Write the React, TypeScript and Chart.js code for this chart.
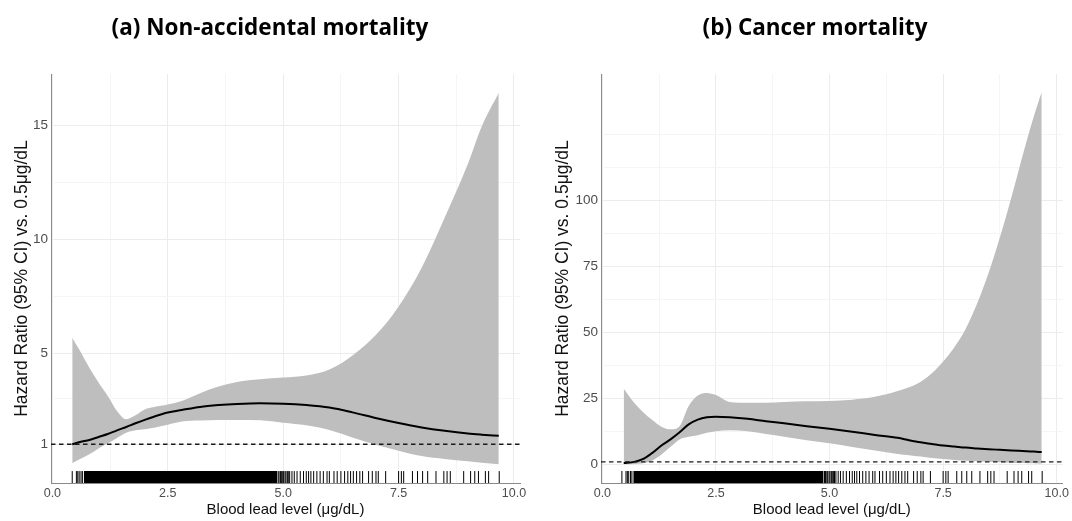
import React, { useEffect, useRef } from 'react';
import { Chart, registerables } from 'chart.js';

Chart.register(...registerables);

// ---------- data: panel (a) non-accidental mortality ----------
const leadA = [0.43, 0.6, 0.8, 1.0, 1.2, 1.4, 1.6, 1.8, 2.0, 2.2, 2.5, 2.8, 3.2, 3.6, 4.0, 4.5, 5.0, 5.5, 6.0, 6.5, 7.0, 7.5, 8.0, 8.5, 9.0, 9.3, 9.67];
const upperA = [5.68, 5.09, 4.36, 3.71, 3.12, 2.46, 2.1, 2.27, 2.53, 2.64, 2.74, 2.9, 3.24, 3.53, 3.73, 3.85, 3.93, 4.02, 4.28, 4.9, 5.78, 7.05, 8.75, 10.95, 13.3, 14.95, 16.43];
const fitA = [1.0, 1.1, 1.19, 1.32, 1.45, 1.61, 1.76, 1.92, 2.07, 2.21, 2.39, 2.5, 2.64, 2.72, 2.77, 2.8, 2.78, 2.72, 2.61, 2.4, 2.15, 1.93, 1.74, 1.59, 1.47, 1.42, 1.37];
const lowerA = [0.17, 0.35, 0.56, 0.81, 1.04, 1.28, 1.51, 1.61, 1.66, 1.73, 1.86, 2.0, 2.04, 2.06, 2.07, 2.05, 1.94, 1.83, 1.63, 1.3, 0.98, 0.72, 0.48, 0.35, 0.25, 0.19, 0.12];

// ---------- data: panel (b) cancer mortality ----------
const leadB = [0.47, 0.7, 0.9, 1.1, 1.3, 1.5, 1.7, 1.9, 2.1, 2.3, 2.5, 2.8, 3.2, 3.6, 4.0, 4.5, 5.0, 5.5, 6.0, 6.5, 6.75, 7.0, 7.25, 7.5, 7.75, 8.0, 8.25, 8.5, 8.75, 9.0, 9.25, 9.5, 9.67];
const upperB = [28.7, 23.4, 19.8, 16.8, 14.3, 13.3, 14.5, 22.1, 26.1, 27.1, 26.3, 23.7, 23.4, 23.4, 23.7, 23.9, 24.0, 24.5, 25.6, 27.8, 29.2, 31.2, 34.5, 39.0, 44.5, 51.5, 61.0, 72.5, 86.0, 101.0, 117.0, 132.0, 141.0];
const fitB = [0.6, 1.0, 2.1, 4.4, 7.2, 9.5, 12.2, 15.2, 17.0, 17.9, 18.1, 17.9, 17.3, 16.4, 15.6, 14.5, 13.5, 12.4, 11.2, 10.1, 9.2, 8.4, 7.8, 7.2, 6.8, 6.4, 6.1, 5.8, 5.55, 5.3, 5.1, 4.9, 4.7];
const lowerB = [0.05, 0.2, 0.5, 1.5, 3.8, 6.7, 9.5, 10.5, 11.1, 12.0, 12.6, 13.0, 12.6, 11.5, 10.5, 9.2, 8.0, 6.6, 5.3, 4.0, 3.5, 3.0, 2.5, 2.1, 1.7, 1.4, 1.2, 1.0, 0.85, 0.7, 0.6, 0.5, 0.4];

// ---------- rug (observed blood lead levels) ----------
const rugSolidRange = [0.68, 4.87];
const rugMarks = [
  0.43, 0.52, 0.55, 0.58, 0.62, 0.65,
  4.89, 4.91, 4.94, 4.96, 4.99, 5.01, 5.04, 5.06, 5.09, 5.11, 5.14,
  5.19, 5.24, 5.3, 5.37, 5.44, 5.5, 5.55, 5.6, 5.66, 5.73, 5.8, 5.87, 5.95, 6.0,
  6.1, 6.17, 6.25, 6.33, 6.4, 6.46, 6.52, 6.59, 6.66, 6.72, 6.85, 6.93, 7.01, 7.06, 7.22,
  7.5, 7.56, 7.61, 7.8, 7.91, 8.02, 8.13, 8.31, 8.48, 8.55, 8.62, 8.91, 9.06, 9.15, 9.23, 9.38, 9.45, 9.68,
];

// ---------- axes ----------
const xTickValues = [0, 1.25, 2.5, 3.75, 5, 6.25, 7.5, 8.75, 10];
const xTickLabels = ['0.0', '', '2.5', '', '5.0', '', '7.5', '', '10.0'];
const yTicksA = [1, 3, 5, 7.5, 10, 12.5, 15];
const yLabelsA = ['1', '', '5', '', '10', '', '15'];
const yTicksB = [0, 12.5, 25, 37.5, 50, 62.5, 75, 87.5, 100, 112.5, 125];
const yLabelsB = ['0', '', '25', '', '50', '', '75', '', '100', '', ''];
const referenceHR = 1;
const xRange = [-0.03, 10.13];

const TICK_FONT = "'Liberation Sans', Arial, sans-serif";
const BAND = '#bebebe';

type Panel = {
  lead: number[]; upper: number[]; fit: number[]; lower: number[];
  yTicks: number[]; yLabels: string[]; yMin: number; yMax: number;
  rugTop: number; rugMid: number;
  yAxisWidth: number; padRight: number; yTitlePad: number;
};

const PANEL_A: Panel = {
  lead: leadA, upper: upperA, fit: fitA, lower: lowerA,
  yTicks: yTicksA, yLabels: yLabelsA, yMin: -0.7, yMax: 17.25,
  rugTop: -0.17, rugMid: -0.44,
  yAxisWidth: 51, padRight: 20, yTitlePad: 11.5,
};
const PANEL_B: Panel = {
  lead: leadB, upper: upperB, fit: fitB, lower: lowerB,
  yTicks: yTicksB, yLabels: yLabelsB, yMin: -7.0, yMax: 147.8,
  rugTop: -2.46, rugMid: -4.73,
  yAxisWidth: 61, padRight: 9, yTitlePad: 12.5,
};

const pts = (xs: number[], ys: number[]) => xs.map((x, i) => ({ x, y: ys[i] }));

function buildChart(canvas: HTMLCanvasElement, p: Panel) {
  const isMajorX = (v: number) => Math.abs(v / 2.5 - Math.round(v / 2.5)) < 1e-6;
  return new Chart(canvas, {
    type: 'line',
    data: {
      datasets: [
        {
          data: pts(p.lead, p.upper), fill: '+1', backgroundColor: BAND,
          borderColor: 'rgba(0,0,0,0)', borderWidth: 0, pointRadius: 0,
          cubicInterpolationMode: 'monotone', order: 5,
        },
        {
          data: pts(p.lead, p.lower), fill: false,
          borderColor: 'rgba(0,0,0,0)', borderWidth: 0, pointRadius: 0,
          cubicInterpolationMode: 'monotone', order: 6,
        },
        {
          data: pts(p.lead, p.fit), fill: false, borderColor: '#000', borderWidth: 2,
          pointRadius: 0, cubicInterpolationMode: 'monotone', order: 3,
        },
        {
          data: [{ x: xRange[0], y: referenceHR }, { x: xRange[1], y: referenceHR }],
          fill: false, borderColor: '#1a1a1a', borderWidth: 1.3, borderDash: [4.5, 3.5],
          pointRadius: 0, order: 2,
        },
        {
          data: [{ x: rugSolidRange[0], y: p.rugTop }, { x: rugSolidRange[1], y: p.rugTop }],
          fill: 'start', backgroundColor: '#000', borderColor: 'rgba(0,0,0,0)', borderWidth: 0,
          pointRadius: 0, order: 1,
        },
        {
          data: rugMarks.map((x) => ({ x, y: p.rugMid })), showLine: false,
          pointStyle: 'line', pointRotation: 90, pointRadius: 6, pointHoverRadius: 6,
          pointBorderWidth: 1, pointBorderColor: '#000', borderColor: '#000', order: 0,
        },
      ] as any,
    },
    options: {
      responsive: false,
      animation: false,
      events: [],
      layout: { padding: { left: 0, top: 74, right: p.padRight, bottom: 0 } },
      plugins: { legend: { display: false }, tooltip: { enabled: false }, title: { display: false } },
      scales: {
        x: {
          type: 'linear', min: xRange[0], max: xRange[1],
          afterBuildTicks: (s: any) => { s.ticks = xTickValues.map((v) => ({ value: v })); },
          afterFit: (s: any) => { s.height = 38; },
          ticks: {
            autoSkip: false, maxRotation: 0, padding: 3, color: '#4d4d4d',
            font: { family: TICK_FONT, size: 12.5 },
            callback: (v: any) => xTickLabels[xTickValues.indexOf(Number(v))] ?? '',
          },
          grid: {
            drawTicks: false, lineWidth: 1,
            color: (c: any) => (isMajorX(c.tick?.value ?? 0) ? '#ececec' : '#f5f5f5'),
          },
          border: { display: true, color: '#8a8a8a', width: 1 },
          title: {
            display: true, text: 'Blood lead level (μg/dL)', color: '#111',
            font: { family: TICK_FONT, size: 15 }, padding: { top: 0, bottom: 2 },
          },
        },
        y: {
          type: 'linear', min: p.yMin, max: p.yMax,
          afterBuildTicks: (s: any) => { s.ticks = p.yTicks.map((v) => ({ value: v })); },
          afterFit: (s: any) => { s.width = p.yAxisWidth; },
          ticks: {
            autoSkip: false, padding: 3, color: '#4d4d4d',
            font: { family: TICK_FONT, size: 13.5 },
            callback: (v: any) => p.yLabels[p.yTicks.indexOf(Number(v))] ?? '',
          },
          grid: {
            drawTicks: false, lineWidth: 1,
            color: (c: any) => (p.yLabels[p.yTicks.indexOf(c.tick?.value)] ? '#ececec' : '#f5f5f5'),
          },
          border: { display: true, color: '#8a8a8a', width: 1 },
          title: {
            display: true, text: 'Hazard Ratio (95% CI) vs. 0.5μg/dL', color: '#111',
            font: { family: TICK_FONT, size: 17.5 }, padding: { top: p.yTitlePad, bottom: 0 },
          },
        },
      },
    } as any,
  });
}

const titleStyle = (left: number, width: number): React.CSSProperties => ({
  position: 'absolute', left, top: 12, width, height: 30, lineHeight: '30px',
  textAlign: 'center', fontFamily: "'Open Sans', sans-serif", fontWeight: 700,
  fontSize: 22.5, color: '#000', whiteSpace: 'nowrap',
});

export default function App() {
  const refA = useRef<HTMLCanvasElement>(null);
  const refB = useRef<HTMLCanvasElement>(null);
  useEffect(() => {
    const a = buildChart(refA.current as HTMLCanvasElement, PANEL_A);
    const b = buildChart(refB.current as HTMLCanvasElement, PANEL_B);
    return () => { a.destroy(); b.destroy(); };
  }, []);
  return (
    <div style={{ position: 'absolute', left: 0, top: 0, width: 1072, height: 521, background: '#fff', overflow: 'hidden' }}>
      <canvas ref={refA} width={540} height={521} style={{ position: 'absolute', left: 0, top: 0, width: 540, height: 521 }} />
      <canvas ref={refB} width={532} height={521} style={{ position: 'absolute', left: 540, top: 0, width: 532, height: 521 }} />
      <div style={titleStyle(0, 540)}>(a) Non-accidental mortality</div>
      <div style={titleStyle(558, 514)}>(b) Cancer mortality</div>
    </div>
  );
}
